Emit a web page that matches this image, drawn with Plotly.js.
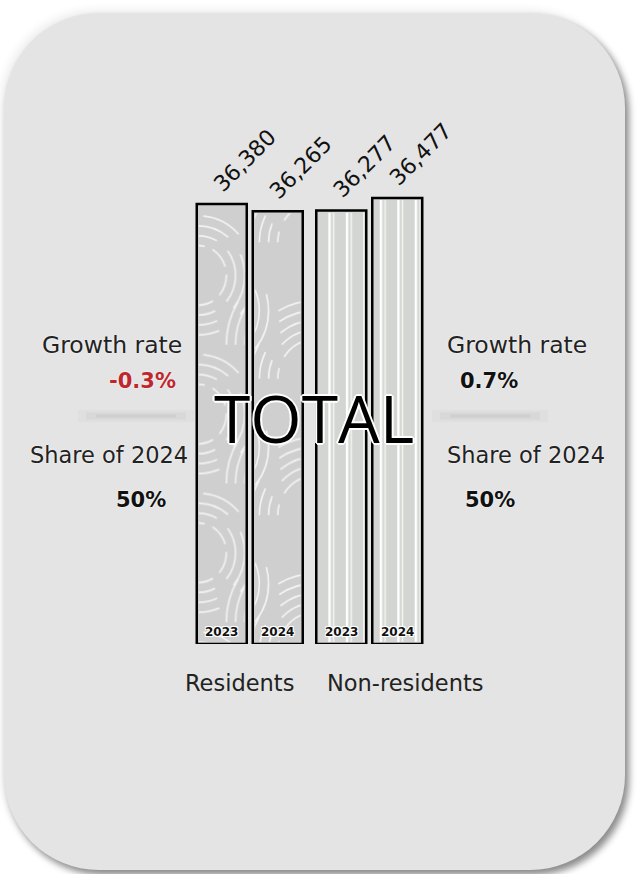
<!DOCTYPE html>
<html><head><meta charset="utf-8">
<script src="https://cdn.plot.ly/plotly-3.0.1.min.js"></script>
<style>
html,body{margin:0;padding:0;background:#fff;width:637px;height:874px;overflow:hidden}
#card{position:absolute;left:4px;top:13px;width:621px;height:857px;border-radius:95px;background:#e4e4e4;box-shadow:4px 5px 7px rgba(0,0,0,0.45),-3px -3px 10px rgba(0,0,0,0.07)}
#chart{position:absolute;left:0;top:0;width:637px;height:874px}
</style></head><body>
<div id="card"></div><div id="chart"></div>
<script>
// ---- data ----
const categories = ['Residents', 'Non-residents'];
const years = ['2023', '2024'];
const values2023 = [36380, 36277];
const values2024 = [36265, 36477];
const growthRates = ['-0.3%', '0.7%'];
const shares2024 = ['50%', '50%'];
const centerLabel = 'TOTAL';
const growthLabel = 'Growth rate';
const shareLabel = 'Share of 2024';

// ---- layout constants ----
const L = 190, W = 239, T = 100, H = 544;
const BASE = 29272, PXU = 0.0619;
const yTop = BASE + H / PXU;
const catPx = W / categories.length;
const barOff = 28, barW = 50;
const px = x => (x - L) / W;
const py = y => (T + H - y) / H;
const FONT = 'DejaVu Sans, sans-serif';
const FONT2 = 'Open Sans, Noto Sans, sans-serif';
const halo = '1px 1px 0 #fff, -1px -1px 0 #fff, 1px -1px 0 #fff, -1px 1px 0 #fff';
const halo2 = '2px 0 0 #fff, -2px 0 0 #fff, 0 2px 0 #fff, 0 -2px 0 #fff, 1px 1px 0 #fff, -1px -1px 0 #fff, 1px -1px 0 #fff, -1px 1px 0 #fff';

const series = [values2023, values2024];
const fmt = v => v.toLocaleString('en-US');
const fills = ['#cfcfcf', '#d3d5d3'];

const traces = series.map((vals, t) => ({
  type: 'bar',
  name: years[t],
  x: categories,
  y: vals.map(v => v - BASE),
  base: BASE,
  marker: {color: fills, line: {color: '#000', width: 2.5}},
  hoverinfo: 'skip',
  showlegend: false
}));

function wrapSvg(defs, fillId) {
  const svg = `<svg xmlns="http://www.w3.org/2000/svg" width="50" height="440" viewBox="0 0 50 440" preserveAspectRatio="none">` +
    `<defs>${defs}</defs><rect width="50" height="440" fill="url(#${fillId})"/></svg>`;
  return 'data:image/svg+xml;utf8,' + encodeURIComponent(svg);
}
function arcSvg(phx, phy) {
  const arcs = [];
  const groups = [[110, 140, [40, 50, 60, 70, 80], 0.9], [0, 70, [30, 40, 50, 60], 0.7]];
  groups.forEach(([cx, cy, rs, d]) => rs.forEach((r, i) => {
    arcs.push(`<circle cx="${cx}" cy="${cy}" r="${r}" stroke-dasharray="${(r * d).toFixed(1)} ${(r * 0.35 + i * 3).toFixed(1)}"/>`);
  }));
  return wrapSvg(`<pattern id="p" width="110" height="140" patternUnits="userSpaceOnUse" patternTransform="translate(${phx},${phy})">` +
    `<g fill="none" stroke="#f3f3f3" stroke-opacity="0.95" stroke-width="1.8" stroke-linecap="round">${arcs.join('')}</g></pattern>`, 'p');
}
function stripeSvg(phx) {
  return wrapSvg(`<pattern id="s" width="19" height="20" patternUnits="userSpaceOnUse" patternTransform="translate(${phx},0)">` +
    `<rect x="0" y="0" width="2.6" height="20" fill="#ffffff"/><rect x="5" y="0" width="1.6" height="20" fill="#f4f7f0"/></pattern>`, 's');
}

const images = [];
series.forEach((vals, t) => vals.forEach((v, c) => {
  const inset = 2;
  images.push({
    source: c === 0 ? arcSvg(t ? -45 : 0, t ? 30 : 0) : stripeSvg(t ? 6 : 11),
    xref: 'x', yref: 'y',
    x: c + (t ? 1 : -1) * barOff / catPx,
    y: v - inset / PXU,
    sizex: (barW - 2 * inset) / catPx,
    sizey: v - BASE - 2 * inset / PXU,
    xanchor: 'center', yanchor: 'top',
    sizing: 'stretch', layer: 'above'
  });
}));

const annotations = [];
series.forEach((vals, t) => vals.forEach((v, c) => {
  annotations.push({
    x: categories[c], y: v, xref: 'x', yref: 'y',
    xshift: (t ? 1 : -1) * barOff + 23, yshift: 5,
    xanchor: 'center', yanchor: 'bottom', textangle: -45,
    text: fmt(v), showarrow: false,
    font: {family: FONT, size: 22, color: '#111'}
  });
  annotations.push({
    x: categories[c], y: BASE, xref: 'x', yref: 'y',
    xshift: (t ? 1 : -1) * barOff, yshift: 3,
    xanchor: 'center', yanchor: 'bottom',
    text: years[t], showarrow: false,
    font: {family: FONT, size: 12, weight: 700, color: '#111', shadow: halo}
  });
}));
const catShift = [-10, 36];
categories.forEach((cName, c) => annotations.push({
  x: cName, y: py(683), xref: 'x', yref: 'paper', xshift: catShift[c],
  xanchor: 'center', yanchor: 'middle', text: cName, showarrow: false,
  font: {family: FONT, size: 22.5, color: '#222'}
}));
annotations.push({
  x: px(313.5), y: py(417), xref: 'paper', yref: 'paper', xanchor: 'center', yanchor: 'middle',
  text: centerLabel, showarrow: false, font: {family: FONT2, size: 66, color: '#000', shadow: halo2}
});
const soft = '0 0 2px #fff';
const sideText = [
  {xr: 184, xl: 445, y: 345, text: () => growthLabel, size: 23.5, weight: 400, color: () => '#222'},
  {xr: 178, xl: 458, y: 381, text: c => growthRates[c], size: 21, weight: 700, color: c => growthRates[c].startsWith('-') ? '#c0272d' : '#111'},
  {xr: 190, xl: 445, y: 455, text: () => shareLabel, size: 22.5, weight: 400, color: () => '#222'},
  {xr: 168, xl: 463, y: 500, text: c => shares2024[c], size: 21, weight: 700, color: () => '#111'}
];
sideText.forEach(s => {
  [0, 1].forEach(c => annotations.push({
    x: c === 0 ? px(s.xr) : px(s.xl), y: py(s.y), xref: 'paper', yref: 'paper',
    xanchor: c === 0 ? 'right' : 'left', yanchor: 'middle', showarrow: false,
    text: s.text(c), font: {family: FONT, size: s.size, weight: s.weight, color: s.color(c), shadow: soft}
  }));
});

const shapes = [];
[[78, 194], [432, 548]].forEach(([a, b]) => {
  [[12, 0.03, 0], [7, 0.05, 8], [3, 0.08, 18]].forEach(([w, o, inset]) => shapes.push({
    type: 'line', xref: 'paper', yref: 'paper', x0: px(a + inset), x1: px(b - inset), y0: py(416), y1: py(416),
    line: {color: `rgba(100,100,100,${o})`, width: w}, layer: 'below'
  }));
});

const layout = {
  width: 637, height: 874,
  margin: {l: L, r: 637 - L - W, t: T, b: 874 - T - H, pad: 0},
  paper_bgcolor: 'rgba(0,0,0,0)', plot_bgcolor: 'rgba(0,0,0,0)',
  barmode: 'group', bargap: 0.063, bargroupgap: 0.107,
  xaxis: {type: 'category', range: [-0.5, 1.5], showticklabels: false, showgrid: false, zeroline: false, showline: false, ticks: ''},
  yaxis: {range: [BASE, yTop], visible: false, showgrid: false, zeroline: false},
  showlegend: false, hovermode: false,
  annotations, shapes, images
};
Plotly.newPlot('chart', traces, layout, {displayModeBar: false, staticPlot: true});
</script></body></html>
